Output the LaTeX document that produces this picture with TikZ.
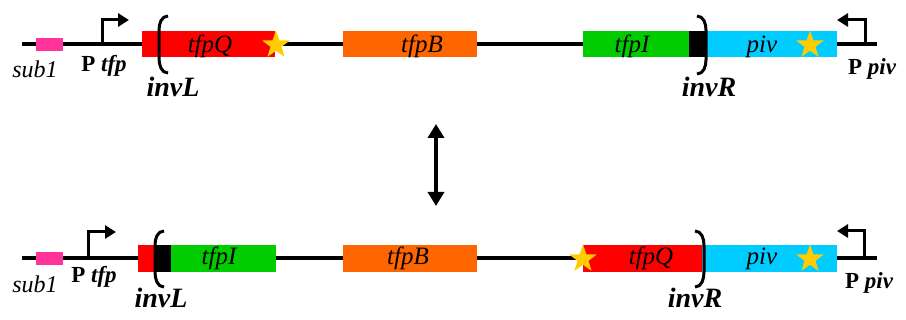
\documentclass[tikz,border=0pt]{standalone}
\usepackage{fontspec}
\setmainfont{Liberation Serif}
\usetikzlibrary{shapes.geometric,arrows.meta}
\definecolor{gRed}{HTML}{FF0000}
\definecolor{gOrange}{HTML}{FF6600}
\definecolor{gGreen}{HTML}{00CC00}
\definecolor{gCyan}{HTML}{00CCFF}
\definecolor{gPink}{HTML}{FF3399}
\definecolor{gGold}{HTML}{FFCC00}
\tikzset{
  backbone/.style={line width=4pt},
  genebox/.style={draw=none,inner sep=0pt,minimum height=26pt,rectangle},
  genelabel/.style={anchor=base,inner sep=0pt,font=\fontsize{25}{25}\selectfont\itshape},
  invlabel/.style={anchor=base,inner sep=0pt,font=\fontsize{28}{28}\selectfont\bfseries\itshape},
  prolabel/.style={anchor=base,inner sep=0pt,font=\fontsize{23}{23}\selectfont\bfseries},
  sublabel/.style={anchor=base,inner sep=0pt,font=\fontsize{24}{24}\selectfont\itshape},
  promoter/.style={line width=3pt,-{Triangle[width=13pt,length=11pt]}},
  bracket/.style={line width=3pt},
  goldstar/.style={star,star points=5,star point ratio=2.5,fill=gGold,draw=none,inner sep=0pt,minimum size=29pt},
  flip/.style={line width=4.5pt,{Triangle[width=16pt,length=14pt]}-{Triangle[width=16pt,length=14pt]}}
}
\begin{document}
\begin{tikzpicture}[x=1pt,y=-1pt]
\useasboundingbox (0,0) rectangle (906,320);
% ---------- top row ----------
\coordinate (T0) at (22,44);
\coordinate (T1) at (877,44);
\draw[backbone] (T0) -- (T1);
\node[genebox,fill=gPink,minimum width=27pt,minimum height=13pt] (Tsub) at (49.5,45) {};
\node[genebox,fill=gRed,minimum width=133pt] (TQ) at (208.5,44) {};
\node[genebox,fill=gOrange,minimum width=134pt] (TB) at (410,44.5) {};
\node[genebox,fill=gGreen,minimum width=106pt] (TI) at (636,44.5) {};
\node[genebox,fill=black,minimum width=18pt] (Tblk) at (698,44.5) {};
\node[genebox,fill=gCyan,minimum width=130pt] (Tpiv) at (772,44.5) {};
\node[goldstar] (Ts1) at (276,45) {};
\node[goldstar] (Ts2) at (810,45) {};
\node[genelabel] (TQl) at (210,53) {tfpQ};
\node[genelabel] (TBl) at (422,53) {tfpB};
\node[genelabel] (TIl) at (632,53) {tfpI};
\node[genelabel] (Tpl) at (762,53) {piv};
\node[sublabel] (Tsl) at (35,78) {sub1};
\node[prolabel] (Tptfp) at (104,72) {P \itshape tfp};
\node[prolabel] (Tppiv) at (872,75) {P \itshape piv};
\node[invlabel] (TinvL) at (173,97) {invL};
\node[invlabel] (TinvR) at (709,97) {invR};
\coordinate (Tpa) at (102,44);
\coordinate (Tpb) at (102,20);
\coordinate (Tpc) at (129,20);
\draw[promoter] (Tpa) -- (Tpb) -- (Tpc);
\coordinate (Tqa) at (865,44);
\coordinate (Tqb) at (865,20);
\coordinate (Tqc) at (837,20);
\draw[promoter] (Tqa) -- (Tqb) -- (Tqc);
\draw[bracket] (168,16) to[out=180,in=90] (159,30) -- (159,58) to[out=-90,in=180] (168,73);
\draw[bracket] (697,16) to[out=0,in=90] (706,30) -- (706,60) to[out=-90,in=0] (697,74);
% ---------- arrow ----------
\coordinate (Aa) at (436,124);
\coordinate (Ab) at (436,206);
\draw[flip] (Aa) -- (Ab);
% ---------- bottom row ----------
\coordinate (B0) at (22,258);
\coordinate (B1) at (877,258);
\draw[backbone] (B0) -- (B1);
\node[genebox,fill=gPink,minimum width=27pt,minimum height=13pt] (Bsub) at (49.5,258.5) {};
\node[genebox,fill=gRed,minimum width=17pt,minimum height=27pt] (Bred) at (146.5,258.5) {};
\node[genebox,fill=black,minimum width=16pt,minimum height=27pt] (Bblk) at (163,258.5) {};
\node[genebox,fill=gGreen,minimum width=105pt,minimum height=27pt] (BI) at (223.5,258.5) {};
\node[genebox,fill=gOrange,minimum width=134pt,minimum height=27pt] (BB) at (410,258.5) {};
\node[genebox,fill=gRed,minimum width=119pt,minimum height=27pt] (BQ) at (642.5,258.5) {};
\node[genebox,fill=gCyan,minimum width=135pt,minimum height=27pt] (Bpiv) at (769.5,258.5) {};
\node[goldstar] (Bs1) at (583,259) {};
\node[goldstar] (Bs2) at (810,259) {};
\node[genelabel] (BIl) at (219,265) {tfpI};
\node[genelabel] (BBl) at (408,265) {tfpB};
\node[genelabel] (BQl) at (651,265) {tfpQ};
\node[genelabel] (Bpl) at (762,265) {piv};
\node[sublabel] (Bsl) at (35,293) {sub1};
\node[prolabel] (Bptfp) at (94,283) {P \itshape tfp};
\node[prolabel] (Bppiv) at (869,289) {P \itshape piv};
\node[invlabel] (BinvL) at (161,308) {invL};
\node[invlabel] (BinvR) at (695,308) {invR};
\coordinate (Bpa) at (88,258);
\coordinate (Bpb) at (88,232);
\coordinate (Bpc) at (116,232);
\draw[promoter] (Bpa) -- (Bpb) -- (Bpc);
\coordinate (Bqa) at (864,258);
\coordinate (Bqb) at (864,231);
\coordinate (Bqc) at (837,231);
\draw[promoter] (Bqa) -- (Bqb) -- (Bqc);
\draw[bracket] (164,231) to[out=180,in=90] (155,245) -- (155,272) to[out=-90,in=180] (164,287);
\draw[bracket] (695,231) to[out=0,in=90] (704,245) -- (704,272) to[out=-90,in=0] (695,287);
\end{tikzpicture}
\end{document}
